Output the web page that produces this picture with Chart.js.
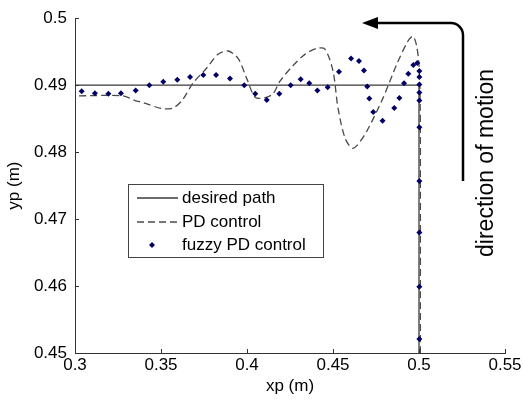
<!DOCTYPE html>
<html>
<head>
<meta charset="utf-8">
<title>Trayectoria xp - yp</title>
<script src="https://cdn.jsdelivr.net/npm/chart.js@4.4.1/dist/chart.umd.min.js"></script>
<style>
  html, body { margin: 0; padding: 0; background: #fff; }
  #grafico { display: block; }
</style>
</head>
<body>
<canvas id="grafico" width="524" height="405"></canvas>
<script>
// ==================== DATOS ====================

// Trayectoria deseada (sube por x = 0.5 y luego va a la izquierda)
const deseadaX = [0.5, 0.5, 0.3];
const deseadaY = [0.45, 0.49, 0.49];

// Control PD (línea discontinua), en el orden del movimiento
const pdX = [0.5008, 0.5008, 0.5007, 0.5000, 0.4985, 0.4965, 0.4936, 0.4872, 0.4791, 0.4698,
             0.4640, 0.4610, 0.4570, 0.4529, 0.4500, 0.4453, 0.4407, 0.4337, 0.4267, 0.4192,
             0.4151, 0.4100, 0.4047, 0.4000, 0.3948, 0.3890, 0.3831, 0.3767, 0.3686, 0.3622,
             0.3570, 0.3506, 0.3395, 0.3349, 0.3279, 0.3000];
const pdY = [0.4500, 0.4750, 0.4870, 0.4930, 0.4960, 0.4973, 0.4966, 0.4932, 0.4881, 0.4832,
             0.4810, 0.4806, 0.4821, 0.4866, 0.4921, 0.4954, 0.4955, 0.4946, 0.4929, 0.4906,
             0.4887, 0.4881, 0.4882, 0.4909, 0.4940, 0.4951, 0.4946, 0.4926, 0.4903, 0.4877,
             0.4866, 0.4865, 0.4874, 0.4877, 0.4884, 0.4884];

// Control PD difuso (puntos)
const difusoX = [0.5002, 0.5002, 0.5002, 0.5002, 0.5002, 0.5002, 0.5002, 0.5002, 0.5002, 0.5002,
                 0.4990, 0.4967, 0.4938, 0.4913, 0.4886, 0.4856, 0.4788, 0.4734, 0.4711, 0.4699,
                 0.4680, 0.4651, 0.4605, 0.4535, 0.4469, 0.4409, 0.4362, 0.4312, 0.4254, 0.4188,
                 0.4115, 0.4048, 0.3984, 0.3901, 0.3820, 0.3746, 0.3669, 0.3595, 0.3513, 0.3432,
                 0.3353, 0.3267, 0.3194, 0.3116, 0.3039];
const difusoY = [0.4521, 0.4599, 0.4680, 0.4757, 0.4837, 0.4877, 0.4889, 0.4901, 0.4912, 0.4921,
                 0.4933, 0.4930, 0.4917, 0.4903, 0.4881, 0.4866, 0.4847, 0.4860, 0.4880, 0.4898,
                 0.4922, 0.4936, 0.4940, 0.4920, 0.4897, 0.4892, 0.4903, 0.4909, 0.4900, 0.4887,
                 0.4878, 0.4887, 0.4900, 0.4910, 0.4915, 0.4915, 0.4912, 0.4908, 0.4905, 0.4900,
                 0.4892, 0.4888, 0.4887, 0.4888, 0.4891];

// Marcas de los ejes
const ticksX = [0.3, 0.35, 0.4, 0.45, 0.5, 0.55];
const ticksY = [0.45, 0.46, 0.47, 0.48, 0.49, 0.5];

const FUENTE = "'Liberation Sans', Arial, sans-serif";

// ==================== UTILIDADES ====================

function aPuntos(xs, ys) {
    return xs.map((x, i) => ({ x: x, y: ys[i] }));
}

// Marcas hacia dentro, leyenda, flecha y texto de dirección
const extras = {
    id: 'extras',
    afterDraw(chart) {
        const ctx = chart.ctx;
        const sx = chart.scales.x;
        const sy = chart.scales.y;
        const area = chart.chartArea;

        ctx.save();
        ctx.strokeStyle = '#333';
        ctx.lineWidth = 1;
        ctx.beginPath();
        ticksX.forEach(v => {
            const px = Math.round(sx.getPixelForValue(v)) + 0.5;
            ctx.moveTo(px, area.bottom);
            ctx.lineTo(px, area.bottom - 4);
        });
        ticksY.forEach(v => {
            const py = Math.round(sy.getPixelForValue(v)) + 0.5;
            ctx.moveTo(area.left, py);
            ctx.lineTo(area.left + 4, py);
        });
        ctx.stroke();

        // Leyenda
        const lx = 128, ly = 184, lw = 195, lh = 73;
        ctx.fillStyle = '#fff';
        ctx.fillRect(lx, ly, lw, lh);
        ctx.strokeStyle = '#444';
        ctx.strokeRect(lx + 0.5, ly + 0.5, lw, lh);

        const filas = [198, 222, 245];
        const ds = chart.data.datasets;
        ctx.lineWidth = 1.3;
        ctx.strokeStyle = ds[0].borderColor;
        ctx.beginPath();
        ctx.moveTo(137, filas[0]);
        ctx.lineTo(178, filas[0]);
        ctx.stroke();

        ctx.strokeStyle = ds[1].borderColor;
        ctx.setLineDash(ds[1].borderDash);
        ctx.beginPath();
        ctx.moveTo(137, filas[1]);
        ctx.lineTo(178, filas[1]);
        ctx.stroke();
        ctx.setLineDash([]);

        ctx.fillStyle = ds[2].backgroundColor;
        ctx.beginPath();
        ctx.moveTo(152, filas[2] - 3);
        ctx.lineTo(155, filas[2]);
        ctx.lineTo(152, filas[2] + 3);
        ctx.lineTo(149, filas[2]);
        ctx.closePath();
        ctx.fill();

        ctx.fillStyle = '#000';
        ctx.font = '17px ' + FUENTE;
        ctx.textBaseline = 'middle';
        ctx.textAlign = 'left';
        ds.forEach((d, i) => ctx.fillText(d.label, 182, filas[i]));

        // Flecha de dirección del movimiento
        ctx.strokeStyle = '#000';
        ctx.lineWidth = 2.5;
        ctx.beginPath();
        ctx.moveTo(375, 23);
        ctx.lineTo(451, 23);
        ctx.arcTo(463, 23, 463, 35, 12);
        ctx.lineTo(463, 181);
        ctx.stroke();
        ctx.fillStyle = '#000';
        ctx.beginPath();
        ctx.moveTo(362, 23);
        ctx.lineTo(378, 17);
        ctx.lineTo(378, 29);
        ctx.closePath();
        ctx.fill();

        ctx.translate(487, 163);
        ctx.rotate(-Math.PI / 2);
        ctx.font = '23px ' + FUENTE;
        ctx.textAlign = 'center';
        ctx.textBaseline = 'middle';
        ctx.fillText('direction of motion', 0, 0);
        ctx.restore();
    }
};

// ==================== GRÁFICO ====================

new Chart(document.getElementById('grafico'), {
    type: 'scatter',
    data: {
        datasets: [{
            label: 'desired path',
            type: 'line',
            data: aPuntos(deseadaX, deseadaY),
            borderColor: '#3a3a3a',
            borderWidth: 1.3,
            pointRadius: 0,
            tension: 0,
            order: 3
        }, {
            label: 'PD control',
            type: 'line',
            data: aPuntos(pdX, pdY),
            borderColor: '#4a4a4a',
            borderWidth: 1.3,
            borderDash: [7, 4],
            pointRadius: 0,
            tension: 0.3,
            order: 2
        }, {
            label: 'fuzzy PD control',
            data: aPuntos(difusoX, difusoY),
            pointStyle: 'rectRot',
            pointRadius: 3,
            backgroundColor: '#000066',
            borderColor: '#000066',
            borderWidth: 0,
            order: 1
        }]
    },
    options: {
        responsive: false,
        animation: false,
        devicePixelRatio: 1,
        layout: { padding: { left: 4, right: 19, top: 17, bottom: 0 } },
        plugins: {
            legend: { display: false },
            tooltip: { enabled: false }
        },
        scales: {
            x: {
                type: 'linear',
                min: 0.3,
                max: 0.55,
                afterBuildTicks: s => { s.ticks = ticksX.map(v => ({ value: v })); },
                afterFit: s => { s.height = 52; },
                grid: { drawOnChartArea: false, drawTicks: false, color: 'transparent' },
                border: { display: true, color: '#333', width: 1 },
                ticks: {
                    padding: 2,
                    color: '#000',
                    font: { family: FUENTE, size: 17 },
                    maxRotation: 0,
                    autoSkip: false,
                    callback: v => String(+v.toFixed(2))
                },
                title: {
                    display: true,
                    text: 'xp (m)',
                    color: '#000',
                    font: { family: FUENTE, size: 17 },
                    padding: { top: 0, bottom: 8 }
                }
            },
            y: {
                type: 'linear',
                min: 0.45,
                max: 0.5,
                afterBuildTicks: s => { s.ticks = ticksY.map(v => ({ value: v })); },
                afterFit: s => { s.width = 71; },
                grid: { drawOnChartArea: false, drawTicks: false, color: 'transparent' },
                border: { display: true, color: '#333', width: 1 },
                ticks: {
                    padding: 8,
                    color: '#000',
                    font: { family: FUENTE, size: 17 },
                    autoSkip: false,
                    callback: v => String(+v.toFixed(2))
                },
                title: {
                    display: true,
                    text: 'yp (m)',
                    color: '#000',
                    font: { family: FUENTE, size: 17 },
                    padding: { top: 0, bottom: 0 }
                }
            }
        }
    },
    plugins: [extras]
});
</script>
</body>
</html>
